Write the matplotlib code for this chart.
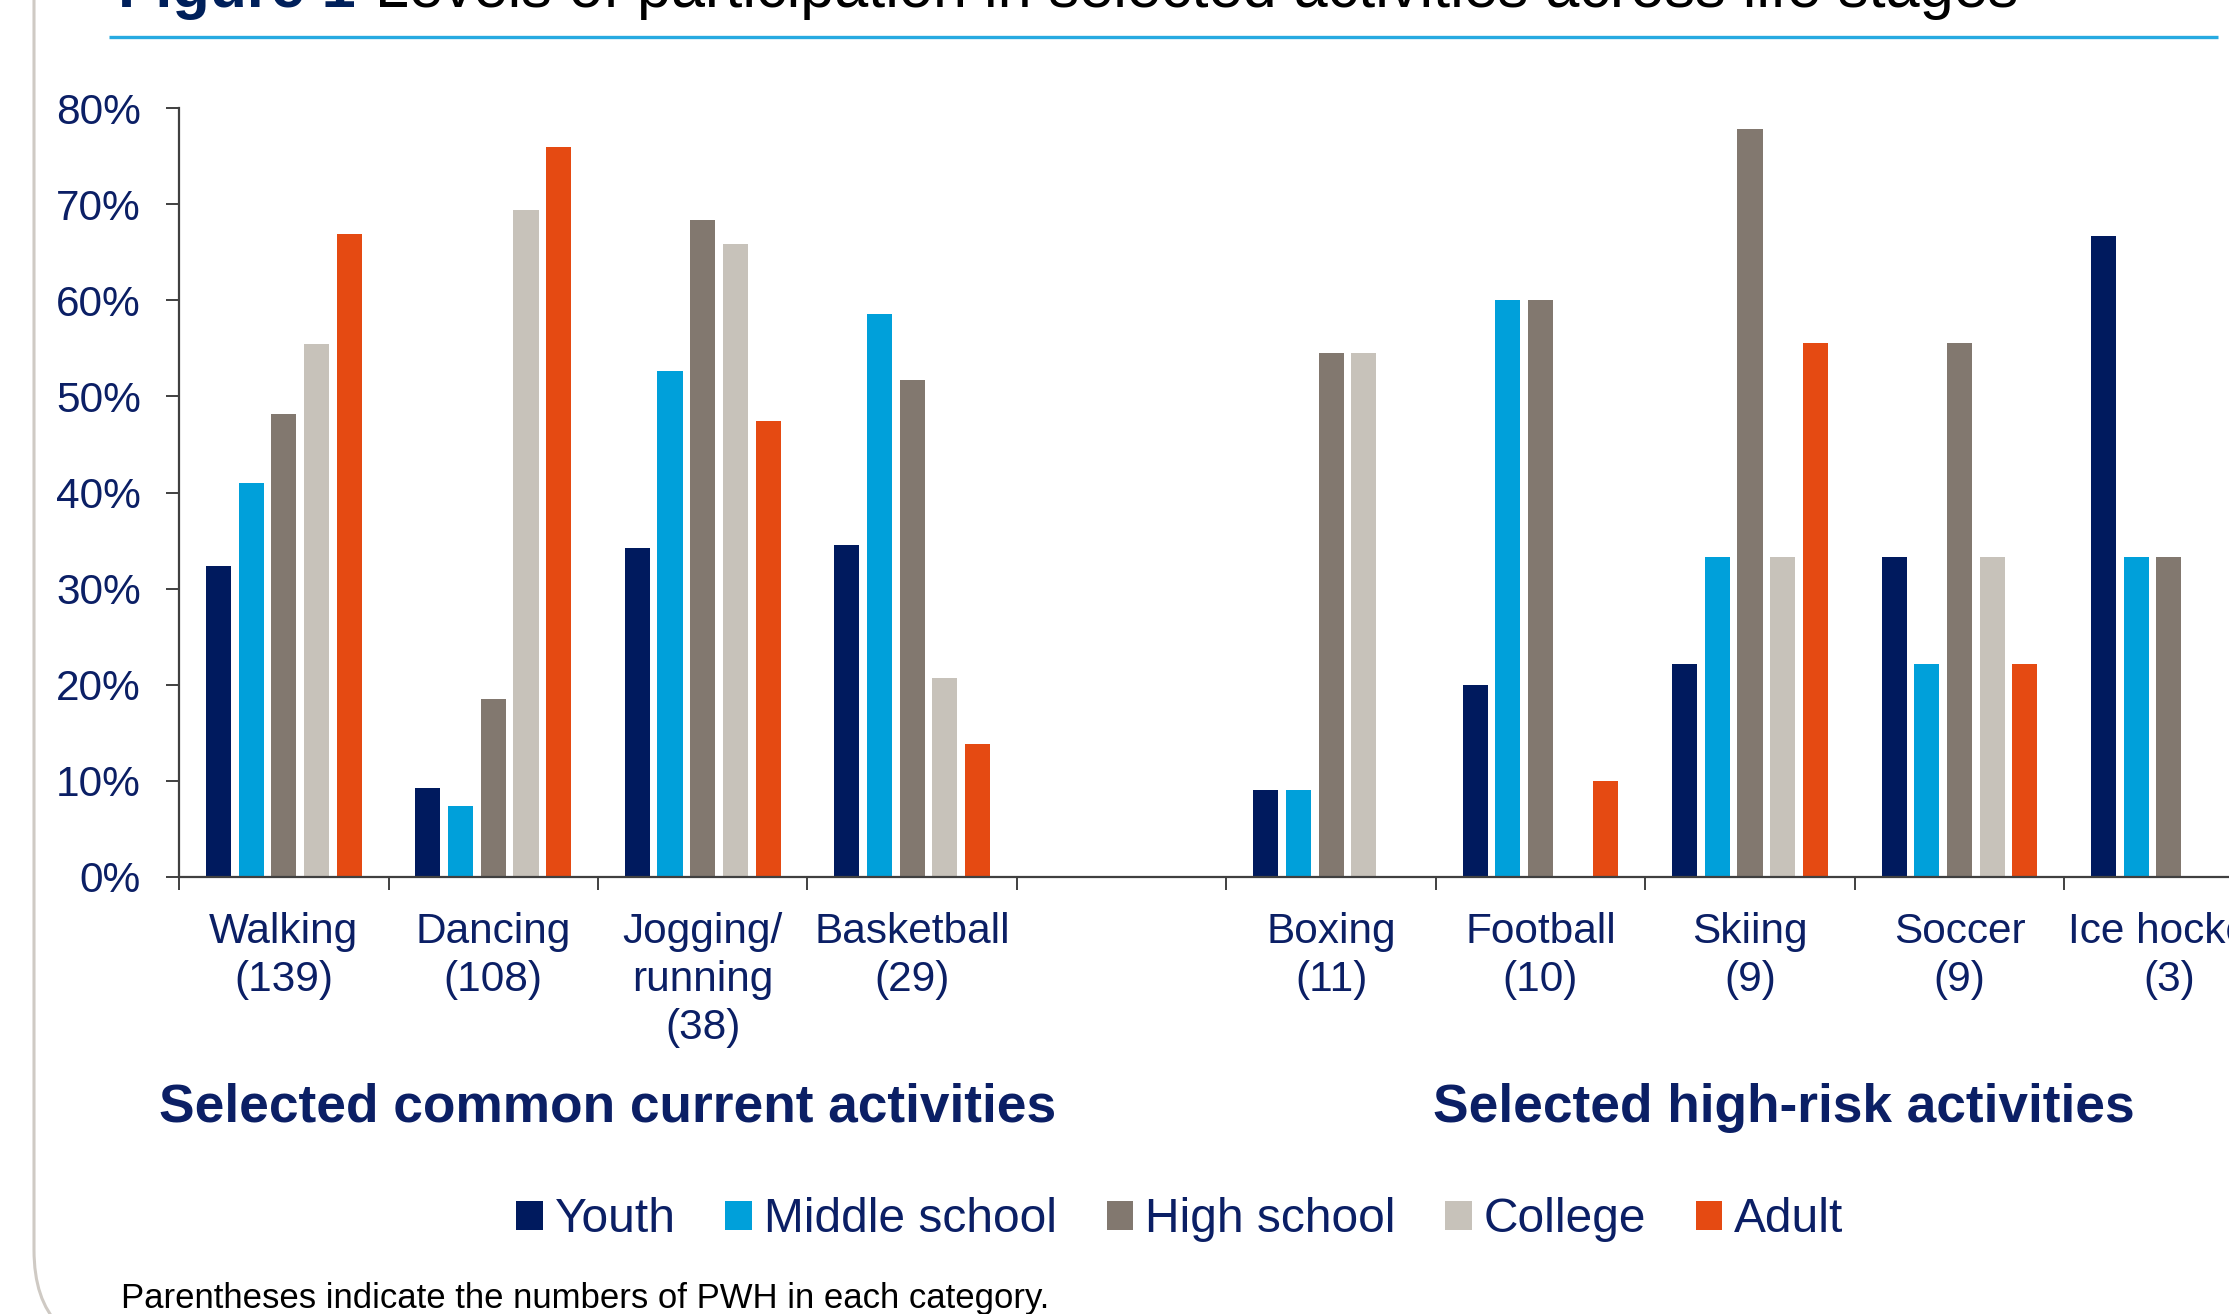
import matplotlib
matplotlib.use("Agg")
import matplotlib.pyplot as plt
from matplotlib.patches import FancyBboxPatch
from matplotlib.ticker import FixedLocator, FuncFormatter
import numpy as np

plt.rcParams['font.family'] = ['Liberation Sans', 'DejaVu Sans']

# ---- data -------------------------------------------------------------
common_activities = ["Walking\n(139)", "Dancing\n(108)",
                     "Jogging/\nrunning\n(38)", "Basketball\n(29)"]
risk_activities = ["Boxing\n(11)", "Football\n(10)", "Skiing\n(9)",
                   "Soccer\n(9)", "Ice hockey\n(3)"]
stages = ["Youth", "Middle school", "High school", "College", "Adult"]

# percentage of PWH participating, per activity (common first, then high-risk)
youth   = [32.4, 9.3, 34.2, 34.5,   9.1, 20.0, 22.2, 33.3, 66.7]
middle  = [41.0, 7.4, 52.6, 58.6,   9.1, 60.0, 33.3, 22.2, 33.3]
high    = [48.2, 18.5, 68.4, 51.7,  54.5, 60.0, 77.8, 55.6, 33.3]
college = [55.4, 69.4, 65.8, 20.7,  54.5, 0.0, 33.3, 33.3, 0.0]
adult   = [66.9, 75.9, 47.4, 13.8,  0.0, 10.0, 55.6, 22.2, 0.0]

y_ticks = [0, 10, 20, 30, 40, 50, 60, 70, 80]
group_titles = ["Selected common current activities", "Selected high-risk activities"]
footnote = "Parentheses indicate the numbers of PWH in each category."

# ---- styling ----------------------------------------------------------
NAVY_TEXT = "#0B1F65"
stage_colors = ["#001A5E", "#00A0DA", "#82786F", "#C7C2BA", "#E54A12"]
AXIS_COLOR = "#404040"

W, H = 2229, 1314
fig = plt.figure(figsize=(W / 100, H / 100), dpi=100)
fig.patch.set_facecolor("white")

# pixel-space layer for the slide frame, title and notes
deco = fig.add_axes([0, 0, 1, 1], zorder=-1)
deco.set_xlim(0, W)
deco.set_ylim(0, H)
deco.axis("off")

frame = FancyBboxPatch((34, -36), 3000, 3000,
                       boxstyle="round,pad=0,rounding_size=100",
                       facecolor="none", edgecolor="#CFCAC4", linewidth=2.2)
deco.add_patch(frame)
deco.plot([109, 2218], [1277, 1277], color="#27AAE1", linewidth=2.4,
          solid_capstyle="butt")
deco.text(118, 1307, "Figure 1", fontsize=44, fontweight="bold",
          color="#00205B", va="baseline", ha="left", clip_on=False)
deco.text(375, 1307,
          "Levels of participation in selected activities across life stages",
          fontsize=44, color="black", va="baseline", ha="left", clip_on=False)
deco.text(121, 6, footnote, fontsize=25, color="black",
          va="baseline", ha="left")
deco.text(608, 192, group_titles[0], fontsize=38.3, fontweight="bold",
          color=NAVY_TEXT, ha="center", va="baseline")
deco.text(1784, 192, group_titles[1], fontsize=38.3, fontweight="bold",
          color=NAVY_TEXT, ha="center", va="baseline")

# ---- main chart -------------------------------------------------------
ax = fig.add_axes([179.1 / W, (H - 877) / H, 2094.5 / W, (877 - 108) / H])
ax.set_facecolor("none")

labels = common_activities + risk_activities
positions = np.concatenate([np.arange(len(common_activities)),
                            np.arange(len(risk_activities)) + len(common_activities) + 1])
n_slots = len(common_activities) + 1 + len(risk_activities)

series = [youth, middle, high, college, adult]
step = 0.156
bar_w = 0.12
handles = []
for i, (vals, name, col) in enumerate(zip(series, stages, stage_colors)):
    bc = ax.bar(positions + (i - 2) * step, vals, width=bar_w, color=col,
                label=name, linewidth=0)
    handles.append(bc)

ax.set_xlim(-0.5, n_slots - 0.5)
ax.set_ylim(0, 80)

for side in ("top", "right"):
    ax.spines[side].set_visible(False)
for side in ("left", "bottom"):
    ax.spines[side].set_color(AXIS_COLOR)
    ax.spines[side].set_linewidth(1.6)

ax.set_yticks(y_ticks)
ax.yaxis.set_major_formatter(FuncFormatter(lambda v, p: f"{int(v)}%"))
ax.tick_params(axis="y", direction="out", length=9.5, width=1.4,
               color=AXIS_COLOR, labelsize=30.5, labelcolor=NAVY_TEXT, pad=18)

# slot boundaries as major ticks, activity names on minor ticks
ax.xaxis.set_major_locator(FixedLocator(np.arange(n_slots + 1) - 0.5))
ax.xaxis.set_major_formatter(FuncFormatter(lambda v, p: ""))
ax.xaxis.set_minor_locator(FixedLocator(positions))
ax.set_xticklabels(labels, minor=True)
ax.tick_params(axis="x", which="major", direction="out", length=9.5,
               width=1.4, color=AXIS_COLOR)
ax.tick_params(axis="x", which="minor", length=0, labelsize=30.5,
               labelcolor=NAVY_TEXT, pad=25.5)
for t in ax.get_xticklabels(minor=True):
    t.set_linespacing(1.25)

leg = fig.legend(handles=handles, labels=stages, loc="center",
                 bbox_to_anchor=(1180 / W, 1 - 1220 / H), ncol=5,
                 frameon=False, fontsize=34.5, handlelength=0.55,
                 handleheight=0.55, handletextpad=0.25, columnspacing=1.04,
                 borderpad=0)
for txt in leg.get_texts():
    txt.set_color(NAVY_TEXT)

fig.savefig("out.png", dpi=100)
